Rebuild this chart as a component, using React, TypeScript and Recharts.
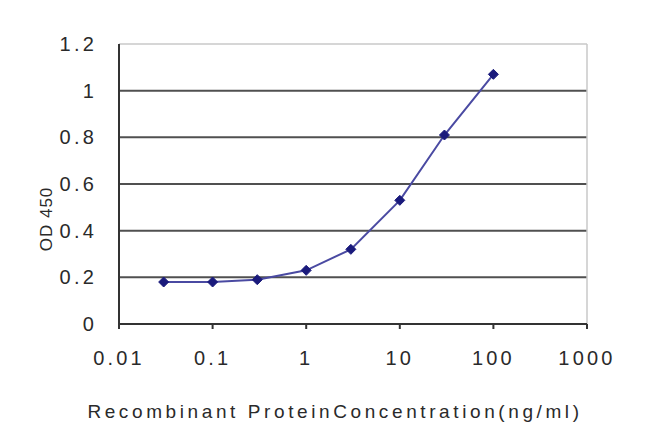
import React from 'react';
import { LineChart, Line, XAxis, YAxis, ReferenceLine, Label } from 'recharts';

const concentrations = [0.03, 0.1, 0.3, 1, 3, 10, 30, 100];
const odValues = [0.18, 0.18, 0.19, 0.23, 0.32, 0.53, 0.81, 1.07];
const xTicks = [0.01, 0.1, 1, 10, 100, 1000];
const xTickLabels = ['0.01', '0.1', '1', '10', '100', '1000'];
const yTicks = [0, 0.2, 0.4, 0.6, 0.8, 1, 1.2];
const yTickLabels = ['0', '0.2', '0.4', '0.6', '0.8', '1', '1.2'];
const gridValues = [0.2, 0.4, 0.6, 0.8, 1];

const data = concentrations.map((c, i) => ({ conc: c, od: odValues[i] }));

const Diamond = (props: any) => {
  const { cx, cy } = props;
  if (cx == null || cy == null) return null;
  const r = 5;
  return (
    <polygon
      points={`${cx},${cy - r} ${cx + r},${cy} ${cx},${cy + r} ${cx - r},${cy}`}
      fill="#1a1a7c"
      stroke="#1a1a7c"
      strokeWidth={1}
    />
  );
};

const font = 'Arial, Liberation Sans, sans-serif';
const tickStyle = { fontFamily: font, fontSize: 20, fill: '#2a2a2a', letterSpacing: 3.2 };

export default function App() {
  return (
    <div style={{ position: 'absolute', left: 0, top: 0, width: 650, height: 434, background: '#fff' }}>
      <LineChart width={650} height={434} data={data} margin={{ top: 44, right: 63, bottom: 80, left: 0 }}>
        {gridValues.map((v) => (
          <ReferenceLine key={v} y={v} stroke="#505050" strokeWidth={2} />
        ))}
        <ReferenceLine y={1.2} stroke="#c8c8c8" strokeWidth={1.5} />
        <ReferenceLine x={1000} stroke="#c8c8c8" strokeWidth={1.5} />
        <XAxis
          dataKey="conc"
          type="number"
          scale="log"
          domain={[0.01, 1000]}
          ticks={xTicks}
          allowDataOverflow
          height={30}
          tickFormatter={(v: number) => xTickLabels[xTicks.indexOf(v)] ?? String(v)}
          stroke="#333"
          strokeWidth={2}
          tickSize={5}
          tickMargin={22}
          tick={tickStyle}
          interval={0}
        >
          <Label
            content={() => (
              <text
                x={335}
                y={418}
                textAnchor="middle"
                style={{ fontFamily: font, fontSize: 19, fill: '#2a2a2a', letterSpacing: 3.6 }}
              >
                Recombinant ProteinConcentration(ng/ml)
              </text>
            )}
          />
        </XAxis>
        <YAxis
          type="number"
          domain={[0, 1.2]}
          ticks={yTicks}
          width={119}
          tickFormatter={(v: number) => yTickLabels[yTicks.indexOf(v)] ?? String(v)}
          stroke="#333"
          strokeWidth={2}
          tickLine={false}
          tickSize={0}
          tickMargin={22}
          tick={tickStyle}
          interval={0}
        >
          <Label
            content={() => (
              <text
                x={52}
                y={219}
                textAnchor="middle"
                transform="rotate(-90 52 219)"
                style={{ fontFamily: font, fontSize: 17, fill: '#2a2a2a', letterSpacing: 1 }}
              >
                OD 450
              </text>
            )}
          />
        </YAxis>
        <Line
          dataKey="od"
          stroke="#4a4aa2"
          strokeWidth={2}
          dot={<Diamond />}
          activeDot={false}
          isAnimationActive={false}
        />
      </LineChart>
    </div>
  );
}
